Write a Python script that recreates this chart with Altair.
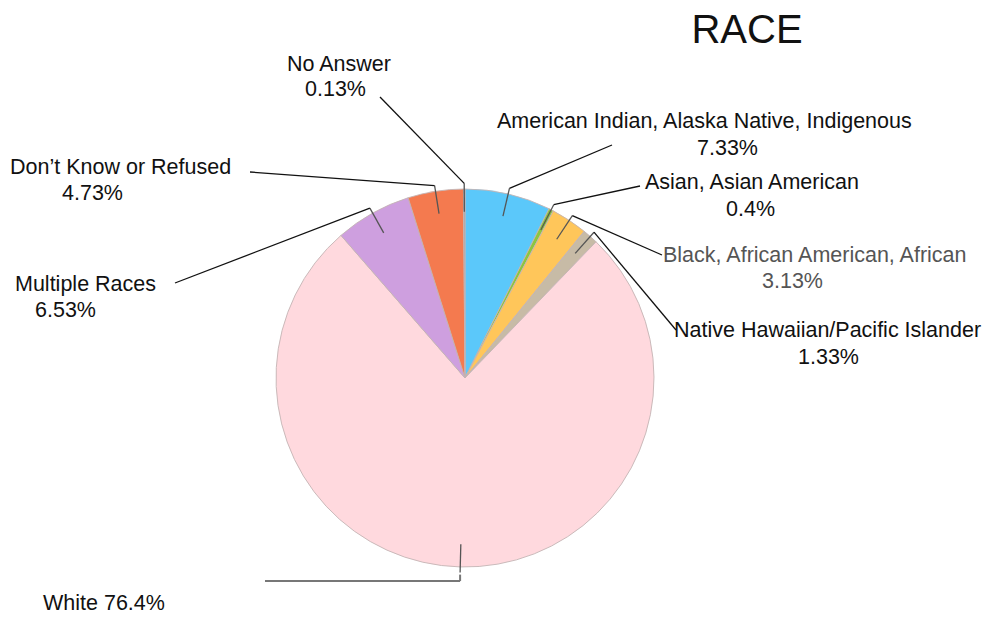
import math
import altair as alt
import pandas as pd

# ---- data ----
categories = [
    "American Indian, Alaska Native, Indigenous",
    "Asian, Asian American",
    "Black, African American, African",
    "Native Hawaiian/Pacific Islander",
    "White",
    "Multiple Races",
    "Don’t Know or Refused",
    "No Answer",
]
values = [7.33, 0.4, 3.13, 1.33, 76.4, 6.53, 4.73, 0.13]
colors = ["#5BC8FA", "#8CC63F", "#FFC65A", "#C7BBA6", "#FFD9DE", "#CE9FDF", "#F47A4F", "#9E9E9E"]

# label text lines (annotation)
label_text = [
    "American Indian, Alaska Native, Indigenous", "7.33%",
    "Asian, Asian American", "0.4%",
    "Black, African American, African", "3.13%",
    "Native Hawaiian/Pacific Islander", "1.33%",
    "White 76.4%",
    "Multiple Races", "6.53%",
    "Don’t Know or Refused", "4.73%",
    "No Answer", "0.13%",
]
label_x = [497, 697, 645, 726, 663, 762, 674, 798, 43, 15, 35, 10, 62, 287, 305]
label_y = [122, 149, 183, 210, 256, 282, 331, 358, 604, 285, 311, 168, 194, 65, 90]
label_color = ["#111", "#111", "#111", "#111", "#555", "#555", "#111", "#111",
               "#111", "#111", "#111", "#111", "#111", "#111", "#111"]

# leader line end points near labels
leader_end_x = [612, 640, 662, 676, 265, 175, 250, 380]
leader_end_y = [145, 186, 255, 330, 581, 283, 172, 97]
leader_color = ["#111", "#111", "#111", "#111", "#777", "#111", "#111", "#111"]

# ---- layout ----
W, H = 978, 607
CX, CY = 465, 378   # page coords of pie centre
R = 189

pie_df = pd.DataFrame({"cat": categories, "value": values, "idx": list(range(len(values)))})

# leader segments computed from the slice mid-angles
total = sum(values)
segs = []
cum = 0.0
for i, v in enumerate(values):
    mid = (cum + v / 2) / total * 2 * math.pi
    cum += v
    s, c = math.sin(mid), math.cos(mid)
    r_in, r_out = R * 0.88, R * 1.03
    x_in, y_in = CX + r_in * s, CY - r_in * c
    x_out, y_out = CX + r_out * s, CY - r_out * c
    segs.append({"x": x_in, "y": y_in, "x2": x_out, "y2": y_out, "col": "#555", "w": 1.3})
    if categories[i] == "White":
        segs.append({"x": x_out, "y": y_out + 2, "x2": x_out, "y2": leader_end_y[i], "col": "#777", "w": 2})
        segs.append({"x": x_out, "y": leader_end_y[i], "x2": leader_end_x[i], "y2": leader_end_y[i], "col": "#777", "w": 2})
    else:
        segs.append({"x": x_out, "y": y_out, "x2": leader_end_x[i], "y2": leader_end_y[i],
                     "col": leader_color[i], "w": 1.3})
seg_df = pd.DataFrame(segs)

lab_df = pd.DataFrame({"text": label_text, "x": label_x, "y": label_y, "col": label_color})
title_df = pd.DataFrame({"text": ["RACE"], "x": [747], "y": [31]})

xs = alt.Scale(domain=[8, 8 + W], nice=False, zero=False)
ys = alt.Scale(domain=[8, 8 + H], nice=False, zero=False, reverse=True)

pie = alt.Chart(pie_df).mark_arc(radius=R, stroke="#c4b4b4", strokeWidth=0.9).encode(
    theta=alt.Theta("value:Q", stack=True),
    order=alt.Order("idx:Q"),
    color=alt.Color("cat:N", scale=alt.Scale(domain=categories, range=colors), legend=None),
    x=alt.value(CX - 8),
    y=alt.value(CY - 8),
)

lines = alt.Chart(seg_df).mark_rule().encode(
    x=alt.X("x:Q", scale=xs, axis=None),
    y=alt.Y("y:Q", scale=ys, axis=None),
    x2="x2:Q",
    y2="y2:Q",
    color=alt.Color("col:N", scale=None),
    strokeWidth=alt.StrokeWidth("w:Q", scale=None),
)

labels = alt.Chart(lab_df).mark_text(
    align="left", baseline="middle", font="Liberation Sans", fontSize=21.5
).encode(
    x=alt.X("x:Q", scale=xs, axis=None),
    y=alt.Y("y:Q", scale=ys, axis=None),
    text="text:N",
    color=alt.Color("col:N", scale=None),
)

title = alt.Chart(title_df).mark_text(
    align="center", baseline="middle", font="Liberation Sans", fontSize=40, color="#111"
).encode(
    x=alt.X("x:Q", scale=xs, axis=None),
    y=alt.Y("y:Q", scale=ys, axis=None),
    text="text:N",
)

chart = alt.layer(pie, lines, labels, title).properties(
    width=W, height=H, autosize=alt.AutoSizeParams(type="none"), padding=0
).configure_view(stroke=None)

chart.save("out.html", embed_options={"renderer": "svg", "actions": False})
